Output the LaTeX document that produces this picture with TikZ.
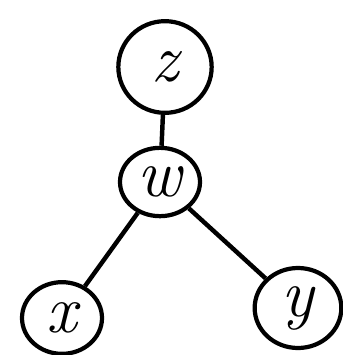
\documentclass[tikz,border=0pt]{standalone}
\usepackage{fontspec}
\usepackage{tikz}
\usetikzlibrary{shapes.geometric}

\begin{document}
\begin{tikzpicture}[
    x=0.03cm, y=-0.03cm,
    vertex/.style={draw, ellipse, line width=3.6pt, inner sep=0pt,
                   font=\fontsize{58}{58}\selectfont\itshape},
    edge/.style={line width=3.8pt}
]
\useasboundingbox (0,0) rectangle (343,355);
% --- vertices ---
\node[vertex, minimum width=2.8cm, minimum height=2.75cm] (z) at (165,67) {z};
\node[vertex, minimum width=2.4cm, minimum height=2.05cm] (w) at (160,182) {w};
\node[vertex, minimum width=2.4cm, minimum height=2.15cm] (x) at (62,318) {x};
\node[vertex, minimum width=2.6cm, minimum height=2.4cm] (y) at (298,308) {y};

% --- edges ---
\draw[edge] (z) -- (w);
\draw[edge] (w) -- (x);
\draw[edge] (w) -- (y);
\end{tikzpicture}
\end{document}
